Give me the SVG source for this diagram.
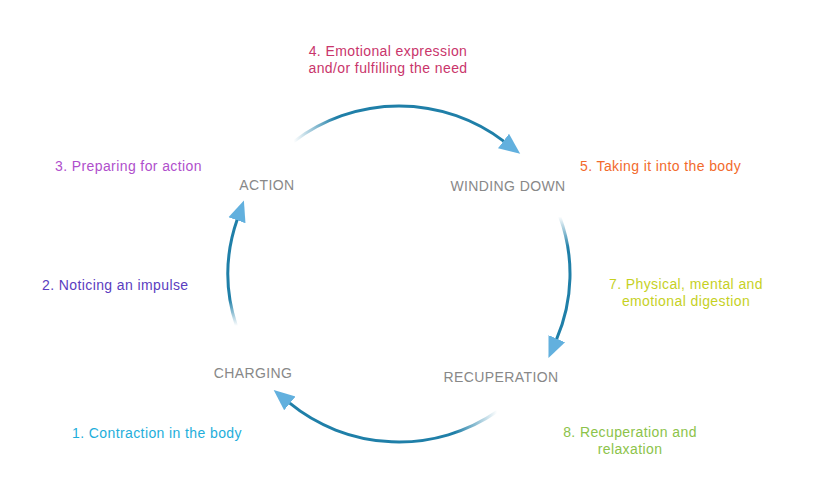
<svg xmlns="http://www.w3.org/2000/svg" width="818" height="498" viewBox="0 0 818 498">
<style>
text{font-family:"Liberation Sans",Arial,sans-serif;font-size:14px;letter-spacing:0.4px}
.node{fill:#888888;text-anchor:middle}
.arc{fill:none;stroke-width:3;marker-end:url(#ah)}
</style>
<defs>
<marker id="ah" markerUnits="userSpaceOnUse" markerWidth="24" markerHeight="20" viewBox="0 -10 24 20" refX="1" refY="0" orient="auto">
<path d="M0,-9 L21,0 L0,9 z" fill="#62b0de"/>
</marker>
<linearGradient id="gTop" gradientUnits="userSpaceOnUse" x1="293.7" y1="141.6" x2="504.3" y2="141.6"><stop offset="0" stop-color="#1f7fa8" stop-opacity="0"/><stop offset="0.2" stop-color="#1f7fa8"/><stop offset="1" stop-color="#1f7fa8"/></linearGradient>
<linearGradient id="gRight" gradientUnits="userSpaceOnUse" x1="559.7" y1="216.5" x2="556.4" y2="339.6"><stop offset="0" stop-color="#1f7fa8" stop-opacity="0"/><stop offset="0.25" stop-color="#1f7fa8"/><stop offset="1" stop-color="#1f7fa8"/></linearGradient>
<linearGradient id="gBottom" gradientUnits="userSpaceOnUse" x1="497.1" y1="411.6" x2="289.1" y2="402.7"><stop offset="0" stop-color="#1f7fa8" stop-opacity="0"/><stop offset="0.2" stop-color="#1f7fa8"/><stop offset="1" stop-color="#1f7fa8"/></linearGradient>
<linearGradient id="gLeft" gradientUnits="userSpaceOnUse" x1="236.4" y1="325.9" x2="237.3" y2="219.3"><stop offset="0" stop-color="#1f7fa8" stop-opacity="0"/><stop offset="0.25" stop-color="#1f7fa8"/><stop offset="1" stop-color="#1f7fa8"/></linearGradient>
</defs>
<rect width="818" height="498" fill="#ffffff"/>
<g id="connectors">
<path class="arc" stroke="url(#gTop)" d="M293.7,141.6 A171,168 0 0 1 504.3,141.6"/>
<path class="arc" stroke="url(#gRight)" d="M559.7,216.5 A171,168 0 0 1 556.4,339.6"/>
<path class="arc" stroke="url(#gBottom)" d="M497.1,411.6 A171,168 0 0 1 289.1,402.7"/>
<path class="arc" stroke="url(#gLeft)" d="M236.4,325.9 A171,168 0 0 1 237.3,219.3"/>
</g>
<g id="action"><text class="node" x="267" y="190">ACTION</text></g>
<g id="winding-down"><text class="node" x="508" y="191">WINDING DOWN</text></g>
<g id="recuperation"><text class="node" x="501" y="382">RECUPERATION</text></g>
<g id="charging"><text class="node" x="253" y="378">CHARGING</text></g>
<g id="labels">
<text x="388" y="56" fill="#c9356b" text-anchor="middle">4. Emotional expression</text>
<text x="388" y="73" fill="#c9356b" text-anchor="middle">and/or fulfilling the need</text>
<text x="55" y="171" fill="#b04fcc">3. Preparing for action</text>
<text x="580" y="171" fill="#f26a2c">5. Taking it into the body</text>
<text x="42" y="290" fill="#5a3dc0">2. Noticing an impulse</text>
<text x="686" y="289" fill="#c6d11f" text-anchor="middle">7. Physical, mental and</text>
<text x="686" y="306" fill="#c6d11f" text-anchor="middle">emotional digestion</text>
<text x="72" y="438" fill="#1eaedb">1. Contraction in the body</text>
<text x="630" y="437" fill="#8cc34a" text-anchor="middle">8. Recuperation and</text>
<text x="630" y="454" fill="#8cc34a" text-anchor="middle">relaxation</text>
</g>
</svg>
